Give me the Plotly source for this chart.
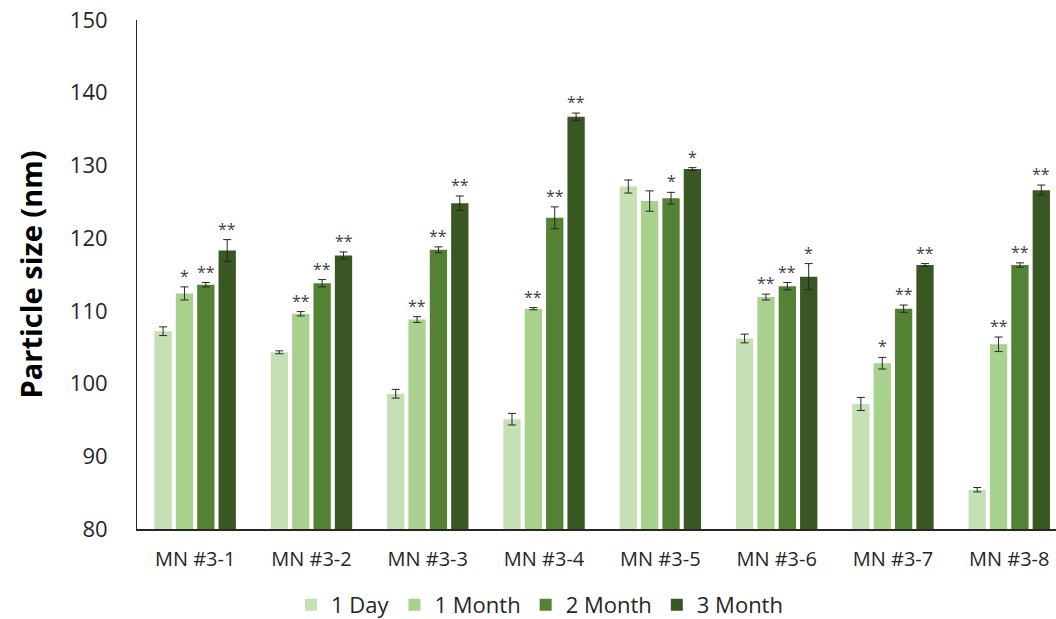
import plotly.graph_objects as go

categories = ["MN #3-1", "MN #3-2", "MN #3-3", "MN #3-4", "MN #3-5", "MN #3-6", "MN #3-7", "MN #3-8"]
series_names = ["1 Day", "1 Month", "2 Month", "3 Month"]

day1 = [107.2, 104.3, 98.6, 95.1, 127.1, 106.2, 97.2, 85.4]
month1 = [112.4, 109.6, 108.8, 110.3, 125.1, 111.9, 102.8, 105.4]
month2 = [113.6, 113.8, 118.4, 122.8, 125.5, 113.4, 110.3, 116.3]
month3 = [118.3, 117.6, 124.8, 136.7, 129.5, 114.7, 116.3, 126.6]

err_day1 = [0.6, 0.2, 0.6, 0.8, 0.9, 0.6, 0.9, 0.3]
err_month1 = [0.9, 0.3, 0.4, 0.15, 1.4, 0.4, 0.8, 1.0]
err_month2 = [0.3, 0.5, 0.4, 1.5, 0.8, 0.5, 0.5, 0.3]
err_month3 = [1.5, 0.5, 1.0, 0.5, 0.2, 1.8, 0.2, 0.7]

sig_day1 = ["", "", "", "", "", "", "", ""]
sig_month1 = ["*", "**", "**", "**", "", "**", "*", "**"]
sig_month2 = ["**", "**", "**", "**", "*", "**", "**", "**"]
sig_month3 = ["**", "**", "**", "**", "*", "*", "**", "**"]

y_ticks = [80, 90, 100, 110, 120, 130, 140, 150]

colors = ["#C5E0B4", "#A9D18E", "#548235", "#385723"]
FONT = "Open Sans"

values = [day1, month1, month2, month3]
errors = [err_day1, err_month1, err_month2, err_month3]
sigs = [sig_day1, sig_month1, sig_month2, sig_month3]

positions = list(range(len(categories)))
bargap = 0.265
groupgap = 0.19
slot = (1 - bargap) / len(series_names)

fig = go.Figure()
for i, name in enumerate(series_names):
    fig.add_trace(go.Bar(
        x=positions, y=values[i], name=name,
        marker=dict(color=colors[i], line=dict(width=0)),
        error_y=dict(type="data", array=errors[i], visible=True,
                     color="#262626", thickness=1, width=4),
    ))

annotations = []
for i in range(len(series_names)):
    offset = (i - 1.5) * slot
    for j, pos in enumerate(positions):
        if sigs[i][j]:
            annotations.append(dict(
                x=pos + offset, y=values[i][j] + errors[i][j], xref="x", yref="y",
                text=sigs[i][j], showarrow=False, yanchor="bottom", yshift=-2,
                font=dict(family=FONT, size=16, color="#404040"),
            ))

fig.update_layout(
    width=1056, height=619,
    margin=dict(l=137, r=0, t=20, b=90, autoexpand=False),
    paper_bgcolor="white", plot_bgcolor="white",
    barmode="group", bargap=bargap, bargroupgap=groupgap,
    font=dict(family=FONT, color="#262626"),
    showlegend=True,
    legend=dict(orientation="h", x=0.438, xanchor="center", y=-0.149, yanchor="middle",
                font=dict(family=FONT, size=22, color="#262626"),
                itemwidth=30, traceorder="normal"),
    annotations=annotations,
)
fig.update_xaxes(
    tickmode="array", tickvals=positions, ticktext=categories,
    range=[-0.5, 7.402], showline=True, linecolor="#262626", linewidth=1.5,
    ticks="", showgrid=False, zeroline=False, ticklabelstandoff=11,
    tickfont=dict(family=FONT, size=20, color="#262626"),
)
fig.update_yaxes(
    range=[80, 150], tickvals=y_ticks, showline=True, linecolor="#262626", linewidth=1,
    ticks="", showgrid=False, zeroline=False,
    tickfont=dict(family=FONT, size=22, color="#262626"), ticklabelstandoff=24,
    title=dict(text="<b>Particle size (nm)</b>", font=dict(family=FONT, size=29, color="#000000"),
               standoff=18),
)

fig.write_html("out.html")
